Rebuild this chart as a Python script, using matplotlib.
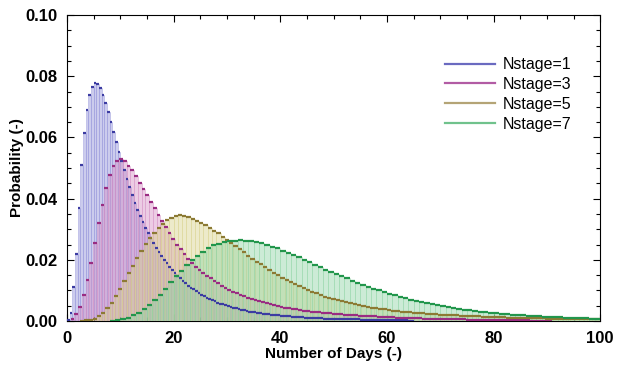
import numpy as np
import matplotlib
matplotlib.use("Agg")
import matplotlib.pyplot as plt
from matplotlib.lines import Line2D
from matplotlib.ticker import MultipleLocator, FormatStrFormatter

plt.rcParams['font.family'] = ['Liberation Sans', 'DejaVu Sans']
plt.rcParams['font.weight'] = 'bold'

# probability per day (bins start at day 0)
# Nstage=1 -> bin width 0.5 day
p_n1 = [0.0003, 0.0025, 0.0110, 0.0220, 0.0370, 0.0510, 0.0615, 0.0690, 0.0738, 0.0765,
        0.0778, 0.0775, 0.0760, 0.0738, 0.0712, 0.0682, 0.0650, 0.0618, 0.0585, 0.0553,
        0.0522, 0.0492, 0.0464, 0.0437, 0.0411, 0.0387, 0.0364, 0.0343, 0.0323, 0.0304,
        0.0287, 0.0270, 0.0254, 0.0239, 0.0225, 0.0212, 0.0200, 0.0188, 0.0177, 0.0167,
        0.0157, 0.0148, 0.0139, 0.0131, 0.0123, 0.0116, 0.0109, 0.0103, 0.0097, 0.0091,
        0.0086, 0.0081, 0.0076, 0.0072, 0.0068, 0.0064, 0.0060, 0.0057, 0.0054, 0.0051,
        0.0048, 0.0046, 0.0043, 0.0041, 0.0039, 0.0037, 0.0035, 0.0033, 0.0031, 0.0030,
        0.0028, 0.0027, 0.0025, 0.0024, 0.0023, 0.0022, 0.0021, 0.0020, 0.0019, 0.0018,
        0.0017, 0.0016, 0.0016, 0.0015, 0.0014, 0.0014, 0.0013, 0.0012, 0.0012, 0.0011,
        0.0011, 0.0010, 0.0010, 0.0009, 0.0009, 0.0009, 0.0008, 0.0008, 0.0008, 0.0007,
        0.0007, 0.0007, 0.0006, 0.0006, 0.0006, 0.0006, 0.0005, 0.0005, 0.0005, 0.0005,
        0.0004, 0.0004, 0.0004, 0.0004, 0.0004, 0.0003, 0.0003, 0.0003, 0.0003, 0.0003,
        0.0003, 0.0002, 0.0002, 0.0002, 0.0002, 0.0002, 0.0002, 0.0002, 0.0001, 0.0001]

# Nstage=3 -> bin width 0.7 day
p_n3 = [0.0000, 0.0008, 0.0022, 0.0045, 0.0085, 0.0135, 0.0190, 0.0255, 0.0320, 0.0380,
        0.0435, 0.0478, 0.0508, 0.0524, 0.0528, 0.0522, 0.0508, 0.0492, 0.0473, 0.0452,
        0.0432, 0.0411, 0.0390, 0.0368, 0.0347, 0.0327, 0.0306, 0.0287, 0.0268, 0.0250,
        0.0234, 0.0218, 0.0204, 0.0190, 0.0178, 0.0166, 0.0157, 0.0148, 0.0139, 0.0131,
        0.0123, 0.0116, 0.0109, 0.0102, 0.0096, 0.0091, 0.0085, 0.0081, 0.0076, 0.0072,
        0.0068, 0.0064, 0.0061, 0.0058, 0.0055, 0.0052, 0.0049, 0.0047, 0.0044, 0.0042,
        0.0040, 0.0038, 0.0036, 0.0034, 0.0033, 0.0031, 0.0030, 0.0028, 0.0027, 0.0026,
        0.0025, 0.0024, 0.0023, 0.0022, 0.0021, 0.0020, 0.0019, 0.0018, 0.0017, 0.0017,
        0.0016, 0.0015, 0.0015, 0.0014, 0.0013, 0.0013, 0.0012, 0.0012, 0.0011, 0.0011,
        0.0010, 0.0010, 0.0009, 0.0009, 0.0009, 0.0008, 0.0008, 0.0007, 0.0007, 0.0007,
        0.0006, 0.0006, 0.0006, 0.0005, 0.0005, 0.0005, 0.0005, 0.0004, 0.0004, 0.0004,
        0.0004, 0.0003, 0.0003, 0.0003, 0.0003, 0.0003, 0.0003, 0.0002, 0.0002, 0.0002,
        0.0002, 0.0002, 0.0002, 0.0002, 0.0001, 0.0001, 0.0001, 0.0001, 0.0001, 0.0001]

# Nstage=5 -> bin width 0.8 day
p_n5 = [0.0000, 0.0000, 0.0000, 0.0001, 0.0002, 0.0004, 0.0008, 0.0015, 0.0027, 0.0042,
        0.0060, 0.0082, 0.0106, 0.0132, 0.0157, 0.0181, 0.0205, 0.0229, 0.0251, 0.0271,
        0.0289, 0.0305, 0.0318, 0.0329, 0.0337, 0.0343, 0.0345, 0.0343, 0.0339, 0.0334,
        0.0328, 0.0321, 0.0313, 0.0304, 0.0295, 0.0286, 0.0276, 0.0265, 0.0255, 0.0245,
        0.0235, 0.0225, 0.0214, 0.0204, 0.0194, 0.0185, 0.0176, 0.0167, 0.0158, 0.0150,
        0.0142, 0.0134, 0.0127, 0.0120, 0.0113, 0.0107, 0.0101, 0.0095, 0.0090, 0.0085,
        0.0080, 0.0076, 0.0072, 0.0068, 0.0064, 0.0061, 0.0058, 0.0055, 0.0052, 0.0049,
        0.0047, 0.0044, 0.0042, 0.0040, 0.0038, 0.0036, 0.0034, 0.0033, 0.0031, 0.0030,
        0.0028, 0.0027, 0.0026, 0.0025, 0.0024, 0.0023, 0.0022, 0.0021, 0.0020, 0.0019,
        0.0018, 0.0018, 0.0017, 0.0016, 0.0016, 0.0015, 0.0015, 0.0014, 0.0014, 0.0013,
        0.0013, 0.0012, 0.0012, 0.0011, 0.0011, 0.0011, 0.0010, 0.0010, 0.0010, 0.0009,
        0.0009, 0.0009, 0.0008, 0.0008, 0.0008, 0.0008, 0.0007, 0.0007, 0.0007, 0.0007,
        0.0006, 0.0006, 0.0006, 0.0006, 0.0005]

# Nstage=7 -> bin width 1 day
p_n7 = [0.0000, 0.0000, 0.0000, 0.0000, 0.0000, 0.0000, 0.0000, 0.0000, 0.0001, 0.0003,
        0.0006, 0.0011, 0.0018, 0.0027, 0.0038, 0.0051, 0.0067, 0.0086, 0.0106, 0.0126,
        0.0146, 0.0165, 0.0183, 0.0199, 0.0214, 0.0227, 0.0238, 0.0247, 0.0253, 0.0258,
        0.0261, 0.0263, 0.0264, 0.0263, 0.0261, 0.0258, 0.0254, 0.0249, 0.0243, 0.0237,
        0.0230, 0.0223, 0.0216, 0.0208, 0.0200, 0.0192, 0.0184, 0.0176, 0.0168, 0.0160,
        0.0153, 0.0146, 0.0139, 0.0132, 0.0125, 0.0118, 0.0112, 0.0106, 0.0100, 0.0094,
        0.0089, 0.0084, 0.0079, 0.0074, 0.0070, 0.0066, 0.0062, 0.0058, 0.0055, 0.0051,
        0.0048, 0.0045, 0.0042, 0.0040, 0.0037, 0.0035, 0.0033, 0.0031, 0.0029, 0.0027,
        0.0025, 0.0024, 0.0022, 0.0021, 0.0019, 0.0018, 0.0017, 0.0016, 0.0015, 0.0014,
        0.0013, 0.0012, 0.0012, 0.0011, 0.0010, 0.0010, 0.0009, 0.0009, 0.0008, 0.0008]

labels = ['Nstage=1', 'Nstage=3', 'Nstage=5', 'Nstage=7']
series = [p_n1, p_n3, p_n5, p_n7]
bin_w = [0.5, 0.7, 0.8, 1.0]
fills = ['#8f8fd8', '#d58fc4', '#d8d28a', '#8fd4a4']
caps = ['#3c3ca2', '#9a2c82', '#8c7a34', '#22964c']
leg_cols = ['#6a6ac0', '#b25ca4', '#b4a476', '#70c28c']

fig, ax = plt.subplots(figsize=(6.2, 3.75), dpi=100)
fig.subplots_adjust(left=0.108, right=0.968, bottom=0.144, top=0.96)

for i in range(4):
    v = np.array(series[i])
    left = np.arange(len(v)) * bin_w[i]
    ax.bar(left, v, width=bin_w[i], align='edge', color=fills[i], alpha=0.45,
           edgecolor=fills[i], linewidth=0.6, zorder=1 + i)
    m = v > 0
    ax.hlines(v[m], left[m], left[m] + bin_w[i], colors=caps[i], lw=1.6, zorder=10 + i)

ax.set_xlim(0, 100)
ax.set_ylim(0, 0.10)
ax.xaxis.set_major_locator(MultipleLocator(20))
ax.xaxis.set_minor_locator(MultipleLocator(5))
ax.yaxis.set_major_locator(MultipleLocator(0.02))
ax.yaxis.set_minor_locator(MultipleLocator(0.005))
ax.yaxis.set_major_formatter(FormatStrFormatter('%.2f'))
ax.tick_params(which='both', direction='in', top=True, right=True, labelsize=12, width=0.8)
ax.tick_params(which='major', length=5, pad=7)
ax.tick_params(which='minor', length=3)
for s in ax.spines.values():
    s.set_linewidth(0.8)

ax.set_xlabel('Number of Days (-)', fontsize=11, fontweight='bold', labelpad=1)
ax.set_ylabel('Probability (-)', fontsize=11, fontweight='bold', labelpad=1)

handles = [Line2D([], [], color=c, lw=1.6) for c in leg_cols]
ax.legend(handles, labels, loc='upper left', bbox_to_anchor=(0.709, 0.862),
          frameon=False, borderpad=0, borderaxespad=0, handlelength=3.1,
          handletextpad=0.5, labelspacing=0.3, prop={'weight': 'normal', 'size': 11.5})

fig.savefig('out.png', dpi=100)
